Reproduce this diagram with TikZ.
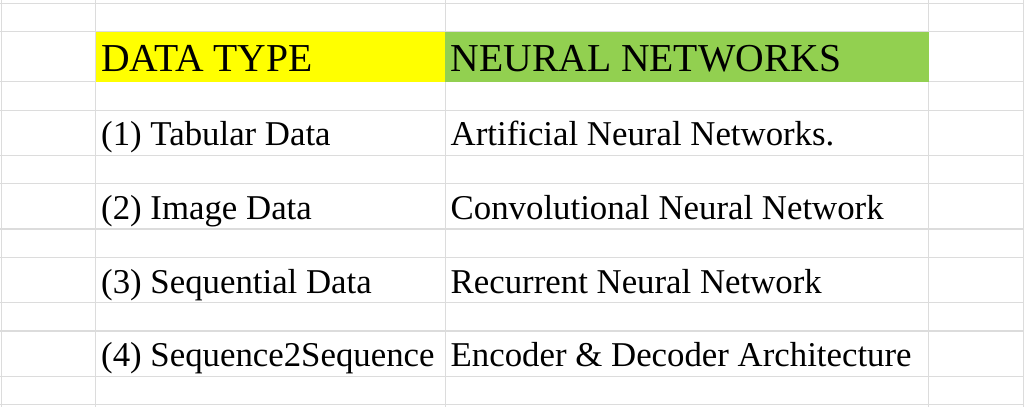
\documentclass[tikz,border=0pt]{standalone}
\usepackage{fontspec}
\setmainfont{Liberation Serif}
\definecolor{gridgray}{HTML}{DCDCDC}
\definecolor{hdryellow}{HTML}{FFFF00}
\definecolor{hdrgreen}{HTML}{92D050}
\begin{document}
\begin{tikzpicture}[x=1pt,y=-1pt,
  gridline/.style={draw=gridgray,line width=1pt},
  thickgrid/.style={draw=gridgray,line width=1.5pt},
  hdrtext/.style={anchor=base west,inner sep=0pt,font=\fontsize{39.6}{41}\selectfont},
  celltext/.style={anchor=base west,inner sep=0pt,font=\fontsize{34.8}{36}\selectfont}]
\useasboundingbox (0,0) rectangle (1024,407);
\fill[white] (0,0) rectangle (1024,407);
% horizontal grid lines
\foreach \y in {3.3,31.7,81.7,110.3,155.3,183.3,257.3,302.7,404.7}
  \draw[gridline] (0,\y) -- (1024,\y);
\foreach \y in {229,331,376.3}
  \draw[thickgrid] (0,\y) -- (1024,\y);
% vertical grid lines
\foreach \x in {1,95.7,445.3,928.7,1023}
  \draw[gridline] (\x,0) -- (\x,407);
% header fills
\fill[hdryellow] (95.7,31.7) rectangle (445.3,81.7);
\fill[hdrgreen] (445.3,31.7) rectangle (928.7,81.7);
% header texts
\node[hdrtext] (h1) at (101,71.7) {DATA TYPE};
\node[hdrtext] (h2) at (450.5,71.7) {NEURAL NETWORKS};
% body texts
\node[celltext] (a1) at (101,145.7) {(1) Tabular Data};
\node[celltext] (b1) at (450.5,145.7) {Artificial Neural Networks.};
\node[celltext] (a2) at (101,219.7) {(2) Image Data};
\node[celltext] (b2) at (450.5,219.7) {Convolutional Neural Network};
\node[celltext] (a3) at (101,293) {(3) Sequential Data};
\node[celltext] (b3) at (450.5,293) {Recurrent Neural Network};
\node[celltext] (a4) at (101,366.7) {(4) Sequence2Sequence};
\node[celltext] (b4) at (450.5,366.7) {Encoder \& Decoder Architecture};
\end{tikzpicture}
\end{document}
